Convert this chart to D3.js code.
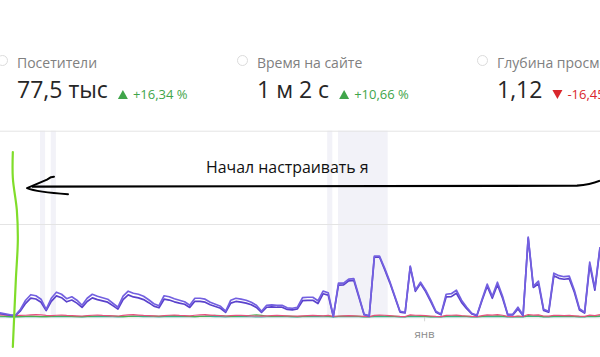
<!DOCTYPE html>
<html><head><meta charset="utf-8">
<script src="https://cdn.jsdelivr.net/npm/d3@7"></script>
<style>
body{margin:0;background:#fff;}
svg{display:block;font-family:"Open Sans",sans-serif;}
</style>
</head><body>
<svg id="chart" width="600" height="357"></svg>
<script>
// ---- data ----
const visits = [48,38,27,22,86,183,242,231,194,86,204,269,247,199,220,183,129,204,247,226,
210,194,151,108,226,280,258,247,226,188,145,124,231,220,199,183,167,129,204,204,
194,161,140,118,65,183,204,194,183,161,129,65,129,134,129,129,102,97,108,210,
215,215,177,280,263,11,366,366,409,414,226,32,16,656,656,527,387,226,65,54,
548,290,376,290,183,65,32,247,253,290,183,108,43,22,194,355,226,376,226,32,
32,108,22,860,333,387,86,65,473,446,435,441,290,91,54,591,312,753];
const visitors = [40,30,22,18,70,150,205,196,162,72,170,230,210,166,185,152,106,170,208,190,
176,162,125,88,190,240,218,208,190,157,120,102,194,185,166,152,140,106,172,170,
162,134,116,97,52,152,170,162,152,134,106,52,108,112,108,108,84,80,90,178,
182,182,148,252,238,9,345,348,390,395,212,28,14,645,646,512,372,214,56,46,
540,278,362,276,168,55,27,218,222,258,160,92,36,18,180,334,204,350,205,26,
26,90,18,850,320,360,74,55,445,418,408,414,268,78,45,562,290,740];
const newVisitorsShare = [25,22,20,18,20,22,25,28,26,20,18,22,24,20,18,16,14,18,22,24,
20,18,16,14,20,26,28,24,20,18,16,14,18,22,24,20,18,16,22,26,
28,24,20,18,14,18,22,20,18,16,14,12,16,18,20,18,16,14,12,16,
18,20,18,16,20,10,14,16,18,16,14,10,8,20,24,22,18,14,10,8,
26,22,20,18,14,10,8,20,22,24,18,14,10,8,18,26,24,28,22,10,
8,14,10,30,24,26,14,12,22,20,18,20,16,12,10,24,18,28];
const bounceSeries = [12,10,8,8,8,10,12,10,8,8,10,12,14,12,10,8,8,10,12,14,
16,18,14,10,8,10,12,14,16,14,12,10,14,16,18,16,12,10,8,10,
12,16,20,18,14,10,12,14,16,22,26,20,14,10,12,14,12,10,8,10,
12,14,16,14,12,6,10,12,14,12,10,6,6,14,16,14,12,10,8,6,
16,14,12,10,8,6,6,12,14,16,12,10,8,6,10,16,14,16,12,6,
6,10,6,18,14,16,8,6,14,12,12,12,10,8,6,14,10,16];
const depthSeries = [6,6,5,5,6,8,9,8,7,6,7,8,9,8,7,6,5,7,8,9,
8,7,6,5,7,9,10,9,8,7,6,5,7,8,9,8,7,6,7,9,
10,9,8,7,5,7,8,8,7,6,5,4,6,7,8,7,6,5,4,6,
7,8,7,6,8,4,6,7,8,7,6,4,3,8,9,8,7,6,4,3,
9,8,7,6,5,4,3,7,8,9,7,6,4,3,7,9,8,10,8,4,
3,6,4,11,9,10,5,4,8,8,7,8,6,5,4,9,7,10];
const bandRanges = [[7.8,8.8],[9.9,10.9],[63.8,64.8],[65.9,75.6]];
const monthTickDays = [82.7];
const monthTickLabels = ["янв"];
const gridValues = [0,1000,2000];
const metricLabels = ["Посетители","Время на сайте","Глубина просмотра"];
const metricValues = ["77,5 тыс","1 м 2 с","1,12"];
const metricDeltas = ["+16,34 %","+10,66 %","-16,45 %"];
const metricUp = [true,true,false];
const annotationText = "Начал настраивать я";

// ---- drawing ----
const svg = d3.select("#chart");
const W = 600;
const nDays = visits.length;
const x = d3.scaleLinear().domain([0, nDays - 1]).range([0, W]);
const y = d3.scaleLinear().domain([0, 2000]).range([317.3, 130.7]);

// bands
svg.append("g").selectAll("rect").data(bandRanges).join("rect")
  .attr("x", d => x(d[0])).attr("width", d => x(d[1]) - x(d[0]))
  .attr("y", y(2000)).attr("height", y(0) - y(2000))
  .attr("fill", "#f2f2f8");

// grid
const gridAxis = d3.axisLeft(y).tickValues(gridValues).tickSize(-W).tickFormat("");
const gg = svg.append("g").call(gridAxis);
gg.select(".domain").remove();
gg.selectAll(".tick line").attr("stroke", "#e4e4e4").attr("stroke-width", 1);

// x axis
const xAxis = d3.axisBottom(x).tickValues(monthTickDays)
  .tickFormat((d, i) => monthTickLabels[i]).tickSize(4).tickPadding(9);
const xg = svg.append("g").attr("transform", `translate(0,${y(0)})`).call(xAxis);
xg.select(".domain").remove();
xg.selectAll(".tick line").attr("stroke", "#d6d6d6");
xg.selectAll(".tick text").attr("fill", "#8c8c8c").style("font-size", "11.5px")
  .style("font-family", "'Open Sans',sans-serif");

// lines
const line = d3.line().x((d, i) => x(i)).y(d => y(d));
const series = [
  {data: depthSeries, color: "#34b3a6", w: 1.2},
  {data: bounceSeries, color: "#4caf50", w: 1.2},
  {data: newVisitorsShare, color: "#e8507f", w: 1.2},
  {data: visitors, color: "#5a42cc", w: 1.7},
  {data: visits, color: "#7360e0", w: 1.7}
];
svg.append("g").selectAll("path").data(series).join("path")
  .attr("d", d => line(d.data))
  .attr("fill", "none").attr("stroke", d => d.color)
  .attr("stroke-width", d => d.w).attr("stroke-linejoin", "round");

// metrics header
const mg = svg.append("g");
metricLabels.forEach((lab, i) => {
  const tx = 17 + i * 240;
  mg.append("circle").attr("cx", tx - 14.5).attr("cy", 60.5).attr("r", 5)
    .attr("fill", "none").attr("stroke", "#dcdcdc");
  mg.append("text").attr("x", tx).attr("y", 67.5).text(lab)
    .attr("fill", "#808080").style("font-size", "14px");
  const v = mg.append("text").attr("x", tx).attr("y", 98.3).text(metricValues[i])
    .attr("fill", "#262626").style("font-size", "23px");
  const vEnd = tx + v.node().getComputedTextLength();
  const tri = vEnd + 10;
  const col = metricUp[i] ? "#3fa54a" : "#d9262c";
  const triPath = metricUp[i]
    ? `M${tri},99 L${tri + 10},99 L${tri + 5},90 Z`
    : `M${tri},90 L${tri + 10},90 L${tri + 5},99 Z`;
  mg.append("path").attr("d", triPath).attr("fill", col);
  mg.append("text").attr("x", tri + 15).attr("y", 99).text(metricDeltas[i])
    .attr("fill", col).style("font-size", "13px");
});

// annotation
const ann = svg.append("g");
const gx = x(2.6);
ann.append("path")
  .attr("d", d3.line().curve(d3.curveCatmullRom)([
    [gx - 0.5, 152], [gx - 0.5, 178], [gx + 3.5, 210], [gx + 4.5, 240], [gx + 2.5, 280], [gx - 0.5, 347]]))
  .attr("fill", "none").attr("stroke", "#80dd2a").attr("stroke-width", 2.2).attr("stroke-linecap", "round");
const ay = y(1400);
ann.append("path")
  .attr("d", `M32,${ay} L577,${ay - 1} Q590,${ay - 2} 600,${ay - 6}`)
  .attr("fill", "none").attr("stroke", "#000").attr("stroke-width", 2.2);
ann.append("path")
  .attr("d", `M54,${ay - 10} L51,${ay - 9.5} L47,${ay - 7} L27,${ay + 1.5} Q37,${ay + 5.5} 68,${ay + 7.5}`)
  .attr("fill", "none").attr("stroke", "#000").attr("stroke-width", 2).attr("stroke-linecap", "round").attr("stroke-linejoin", "round");
ann.append("text").attr("x", 206).attr("y", 173.3).text(annotationText)
  .attr("fill", "#111").style("font-size", "15.9px");
</script>
</body></html>
